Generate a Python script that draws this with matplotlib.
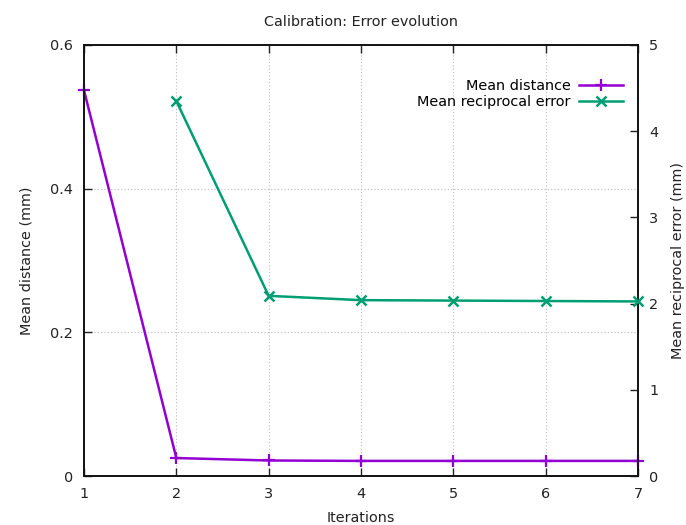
import matplotlib
matplotlib.use("Agg")
import matplotlib.pyplot as plt

iterations = [1, 2, 3, 4, 5, 6, 7]
mean_distance = [0.537, 0.025, 0.0216, 0.021, 0.021, 0.021, 0.021]
recip_iters = [2, 3, 4, 5, 6, 7]
mean_recip_error = [4.35, 2.09, 2.04, 2.035, 2.03, 2.025]

y_ticks = [0, 0.2, 0.4, 0.6]
y_tick_labels = ["0", "0.2", "0.4", "0.6"]
y2_ticks = [0, 1, 2, 3, 4, 5]

purple = "#9400D3"
green = "#009E73"
txt = "#222222"
fs = 10.4

plt.rcParams['font.family'] = ['DejaVu Sans']
fig = plt.figure(figsize=(6.86, 5.25), dpi=100)
ax = fig.add_axes([84/686, 1-476/525, (638-84)/686, (476-45)/525])

l1, = ax.plot(iterations, mean_distance, color=purple, lw=1.8, marker='+',
              markersize=9, markeredgewidth=1.6, clip_on=False, zorder=5,
              label="Mean distance")
ax.set_xlim(1, 7)
ax.set_ylim(0, 0.6)
ax.set_xticks(iterations)
ax.set_yticks(y_ticks)
ax.set_yticklabels(y_tick_labels)
ax.tick_params(direction='in', length=6, width=1, top=True, right=True,
               labelsize=fs, colors=txt, pad=8)
ax.grid(True, color='#bbbbbb', linestyle=(0, (1, 2)), linewidth=0.8)
for s in ax.spines.values():
    s.set_linewidth(1.2)
    s.set_color('#111111')
ax.set_xlabel("Iterations", fontsize=fs, color=txt, labelpad=7)
ax.set_ylabel("Mean distance (mm)", fontsize=fs, color=txt, labelpad=12)
ax.set_title("Calibration: Error evolution", fontsize=fs, color=txt, pad=14)

ax2 = ax.twinx()
l2, = ax2.plot(recip_iters, mean_recip_error, color=green, lw=1.8, marker='x',
               markersize=7, markeredgewidth=1.8, clip_on=False, zorder=5,
               label="Mean reciprocal error")
ax2.set_ylim(0, 5)
ax2.set_yticks(y2_ticks)
ax2.tick_params(direction='in', length=6, width=1, labelsize=fs, colors=txt, pad=8)
for s in ax2.spines.values():
    s.set_linewidth(1.2)
    s.set_color('#111111')
ax2.set_ylabel("Mean reciprocal error (mm)", fontsize=fs, color=txt, labelpad=9)

leg = ax2.legend(handles=[l1, l2], loc='upper right', frameon=False,
                 markerfirst=False, fontsize=fs, handlelength=3.0,
                 bbox_to_anchor=(0.983, 0.935), borderaxespad=0,
                 labelspacing=0.15, handletextpad=0.6)

fig.savefig("out.png", dpi=100)
